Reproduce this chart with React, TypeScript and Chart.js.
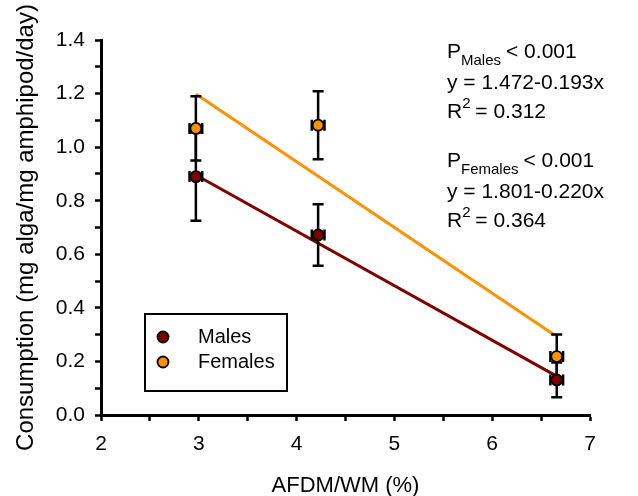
import React, { useEffect, useRef } from 'react';
import { Chart, registerables } from 'chart.js';

Chart.register(...registerables);

// ---- data ----
const xValues = [2.97, 4.22, 6.66];
const maleMeans = [0.89, 0.672, 0.131];
const maleErr = [0.165, 0.115, 0.065];
const femaleMeans = [1.07, 1.082, 0.218];
const femaleErr = [0.12, 0.127, 0.083];
const xErr = [0.065, 0.065, 0.065];

const fitX = [2.97, 6.64];
const maleFitY = [0.896, 0.149];
const femaleFitY = [1.198, 0.298];

const xMin = 2;
const xMax = 7;
const yMin = 0;
const yMax = 1.4;

const annotationsMales = ['P', 'Males', '< 0.001', 'y = 1.472-0.193x', '0.312'];
const annotationsFemales = ['P', 'Females', '< 0.001', 'y = 1.801-0.220x', '0.364'];

const MALE_COLOR = '#800000';
const FEMALE_COLOR = '#FF9000';
const FONT = '"Liberation Sans", Arial, sans-serif';

const errorBarPlugin = {
  id: 'errorBars',
  beforeDraw(chart: any) {
    chart.$errDrawn = false;
  },
  beforeDatasetDraw(chart: any, args: any) {
    const ds = chart.data.datasets[args.index];
    if (!ds.errY || chart.$errDrawn) return;
    chart.$errDrawn = true;
    const ctx = chart.ctx;
    const xs = chart.scales.x;
    const ys = chart.scales.y;
    ctx.save();
    ctx.strokeStyle = '#000';
    ctx.lineWidth = 2.5;
    chart.data.datasets.forEach((d: any) => {
      if (!d.errY) return;
      d.data.forEach((p: any, i: number) => {
        const px = xs.getPixelForValue(p.x);
        const top = ys.getPixelForValue(p.y + d.errY[i]);
        const bot = ys.getPixelForValue(p.y - d.errY[i]);
        const left = xs.getPixelForValue(p.x - d.errX[i]);
        const right = xs.getPixelForValue(p.x + d.errX[i]);
        const py = ys.getPixelForValue(p.y);
        const cap = 5.5;
        ctx.beginPath();
        ctx.moveTo(px, top);
        ctx.lineTo(px, bot);
        ctx.moveTo(px - cap, top);
        ctx.lineTo(px + cap, top);
        ctx.moveTo(px - cap, bot);
        ctx.lineTo(px + cap, bot);
        ctx.moveTo(left, py);
        ctx.lineTo(right, py);
        ctx.moveTo(left, py - cap);
        ctx.lineTo(left, py + cap);
        ctx.moveTo(right, py - cap);
        ctx.lineTo(right, py + cap);
        ctx.stroke();
      });
    });
    ctx.restore();
  },
};

function drawStat(ctx: CanvasRenderingContext2D, x: number, y: number, lines: string[]) {
  const big = `21px ${FONT}`;
  const small = `15px ${FONT}`;
  ctx.fillStyle = '#000';
  ctx.textBaseline = 'alphabetic';
  ctx.textAlign = 'left';
  // P_sub < 0.001
  ctx.font = big;
  ctx.fillText(lines[0], x, y);
  let cx = x + ctx.measureText(lines[0]).width;
  ctx.font = small;
  ctx.fillText(lines[1], cx, y + 7);
  cx += ctx.measureText(lines[1]).width + 5;
  ctx.font = big;
  ctx.fillText(lines[2], cx, y);
  // equation
  ctx.fillText(lines[3], x, y + 31);
  // R^2
  ctx.fillText('R', x, y + 60);
  cx = x + ctx.measureText('R').width;
  ctx.font = small;
  ctx.fillText('2', cx, y + 50);
  cx += ctx.measureText('2').width;
  ctx.font = big;
  ctx.fillText(' = ' + lines[4], cx - 1, y + 60);
}

const overlayPlugin = {
  id: 'overlay',
  afterDraw(chart: any) {
    const ctx = chart.ctx as CanvasRenderingContext2D;
    ctx.save();
    // legend box
    ctx.strokeStyle = '#000';
    ctx.lineWidth = 2;
    ctx.strokeRect(145, 314, 142, 77);
    const items = [
      { label: 'Males', color: MALE_COLOR, y: 337 },
      { label: 'Females', color: FEMALE_COLOR, y: 362 },
    ];
    items.forEach((it) => {
      ctx.beginPath();
      ctx.arc(163, it.y, 5.5, 0, Math.PI * 2);
      ctx.fillStyle = it.color;
      ctx.fill();
      ctx.lineWidth = 1.8;
      ctx.strokeStyle = '#000';
      ctx.stroke();
      ctx.fillStyle = '#000';
      ctx.font = `20px ${FONT}`;
      ctx.textBaseline = 'middle';
      ctx.textAlign = 'left';
      ctx.fillText(it.label, 198, it.y);
    });
    // statistics text
    drawStat(ctx, 447, 58, annotationsMales);
    drawStat(ctx, 447, 167, annotationsFemales);
    ctx.restore();
  },
};

export default function App() {
  const ref = useRef<HTMLCanvasElement | null>(null);
  useEffect(() => {
    if (!ref.current) return;
    const chart = new Chart(ref.current, {
      type: 'scatter',
      data: {
        datasets: [
          {
            label: 'Males',
            data: xValues.map((x, i) => ({ x, y: maleMeans[i] })),
            errY: maleErr,
            errX: xErr,
            pointRadius: 5.5,
            pointBackgroundColor: MALE_COLOR,
            pointBorderColor: '#000',
            pointBorderWidth: 1.8,
            showLine: false,
            order: 0,
          } as any,
          {
            label: 'Females',
            data: xValues.map((x, i) => ({ x, y: femaleMeans[i] })),
            errY: femaleErr,
            errX: xErr,
            pointRadius: 5.5,
            pointBackgroundColor: FEMALE_COLOR,
            pointBorderColor: '#000',
            pointBorderWidth: 1.8,
            showLine: false,
            order: 1,
          } as any,
          {
            label: 'Males fit',
            data: fitX.map((x, i) => ({ x, y: maleFitY[i] })),
            showLine: true,
            borderColor: MALE_COLOR,
            borderWidth: 3,
            pointRadius: 0,
            order: 2,
          },
          {
            label: 'Females fit',
            data: fitX.map((x, i) => ({ x, y: femaleFitY[i] })),
            showLine: true,
            borderColor: FEMALE_COLOR,
            borderWidth: 3,
            pointRadius: 0,
            order: 3,
          },
        ],
      },
      options: {
        animation: false,
        responsive: true,
        maintainAspectRatio: false,
        layout: { padding: { top: 40, right: 48, left: 0, bottom: 0 } },
        plugins: { legend: { display: false }, tooltip: { enabled: false } },
        scales: {
          x: {
            type: 'linear',
            min: xMin,
            max: xMax,
            afterFit: (s: any) => {
              s.height = 85;
            },
            ticks: {
              stepSize: 0.5,
              autoSkip: false,
              maxRotation: 0,
              color: '#000',
              font: { size: 21, family: FONT },
              padding: 11,
              callback: (v: any) => (Math.round(v * 2) % 2 === 0 ? String(Math.round(v)) : ''),
            },
            grid: {
              drawOnChartArea: false,
              drawTicks: true,
              tickLength: 6,
              tickColor: '#000',
              tickWidth: 2.5,
            },
            border: { color: '#000', width: 3 },
            title: {
              display: true,
              text: 'AFDM/WM (%)',
              color: '#000',
              font: { size: 22, family: FONT },
              padding: { top: 0, bottom: 1 },
            },
          },
          y: {
            type: 'linear',
            min: yMin,
            max: yMax,
            afterFit: (s: any) => {
              s.width = 101;
            },
            ticks: {
              stepSize: 0.1,
              autoSkip: false,
              color: '#000',
              font: { size: 21, family: FONT },
              padding: 10,
              callback: (v: any) => (Math.round(v * 10) % 2 === 0 ? Number(v).toFixed(1) : ''),
            },
            grid: {
              drawOnChartArea: false,
              drawTicks: true,
              tickLength: 6,
              tickColor: '#000',
              tickWidth: 2.5,
            },
            border: { color: '#000', width: 3 },
            title: {
              display: true,
              text: 'Consumption (mg alga/mg amphipod/day)',
              color: '#000',
              font: { size: 24, family: FONT },
              padding: { top: 12, bottom: 0 },
            },
          },
        },
      } as any,
      plugins: [errorBarPlugin, overlayPlugin],
    });
    return () => chart.destroy();
  }, []);
  return (
    <div style={{ position: 'absolute', left: 0, top: 0, width: 638, height: 500 }}>
      <canvas ref={ref} />
    </div>
  );
}
